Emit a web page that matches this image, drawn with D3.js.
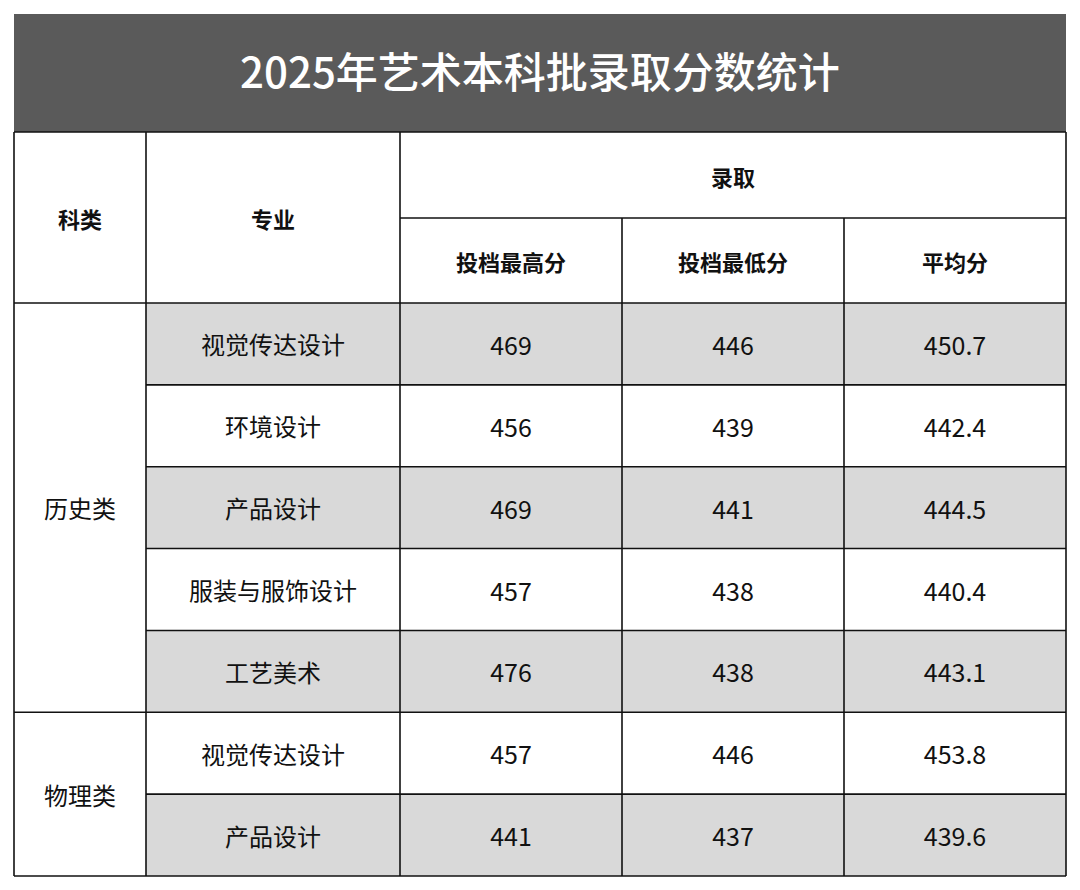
<!DOCTYPE html>
<html><head><meta charset="utf-8">
<script src="https://cdn.jsdelivr.net/npm/d3@7"></script>
<style>body{margin:0;background:#fff}</style></head>
<body><svg id="c" width="1080" height="890"></svg>
<script>
const title = "2025年艺术本科批录取分数统计";
const groups = ["历史类","物理类"];
const groupSizes = [5,2];
const majors = ["视觉传达设计","环境设计","产品设计","服装与服饰设计","工艺美术","视觉传达设计","产品设计"];
const maxScores = [469,456,469,457,476,457,441];
const minScores = [446,439,441,438,438,446,437];
const avgScores = ["450.7","442.4","444.5","440.4","443.1","453.8","439.6"];
const shaded = [true,false,true,false,true,false,true];
const headers = ["科类","专业","录取","投档最高分","投档最低分","平均分"];

const svg = d3.select("#c");
const font = "'Noto Sans CJK SC','Noto Sans',sans-serif";
const x = d3.scaleLinear().domain([0,5]).range([14,1066]);
const colEdges = [14,146,400,622,844,1066];
const yRow = d3.scaleLinear().domain([0,7]).range([303,876]);

// title
svg.append("rect").attr("x",14).attr("y",14).attr("width",1052).attr("height",118).attr("fill","#5a5a5a");
svg.append("text").attr("x",540).attr("y",88).attr("text-anchor","middle").attr("fill","#fff")
  .attr("font-family",font).attr("font-size",42).attr("font-weight",500).text(title);

// shading
majors.forEach((m,i)=>{
  if(shaded[i]) svg.append("rect").attr("x",146).attr("y",yRow(i)).attr("width",1066-146).attr("height",yRow(i+1)-yRow(i)).attr("fill","#d9d9d9");
});

const line=(x1,y1,x2,y2)=>svg.append("line").attr("x1",x1).attr("y1",y1).attr("x2",x2).attr("y2",y2).attr("stroke","#111").attr("stroke-width",1.6);
const txt=(t,cx,cy,size,bold)=>svg.append("text").attr("x",cx).attr("y",cy).attr("text-anchor","middle").attr("dominant-baseline","central")
  .attr("font-family",font).attr("font-size",size).attr("font-weight",bold?700:400).attr("fill","#111").text(t);

// header
const mid=(a,b)=>(a+b)/2;
txt(headers[0],mid(14,146),218,22,true);
txt(headers[1],mid(146,400),218,22,true);
txt(headers[2],mid(400,1066),176,22,true);
for(let k=0;k<3;k++) txt(headers[3+k],mid(colEdges[2+k],colEdges[3+k]),261,22,true);

// body
majors.forEach((m,i)=>{
  const cy=mid(yRow(i),yRow(i+1));
  txt(m,mid(146,400),cy,24,false);
  txt(maxScores[i],mid(400,622),cy,25,false);
  txt(minScores[i],mid(622,844),cy,25,false);
  txt(avgScores[i],mid(844,1066),cy,25,false);
});
let start=0;
groups.forEach((g,gi)=>{
  const end=start+groupSizes[gi];
  txt(g,mid(14,146),mid(yRow(start),yRow(end)),24,false);
  start=end;
});

// borders
line(14,132,1066,132); line(14,876,1066,876);
line(400,218,1066,218);
line(14,303,1066,303);
for(let i=1;i<7;i++) line(i===5?14:146,yRow(i),1066,yRow(i));
line(14,132,14,876); line(1066,132,1066,876);
line(146,132,146,876); line(400,132,400,876);
line(622,218,622,876); line(844,218,844,876);
</script></body></html>
